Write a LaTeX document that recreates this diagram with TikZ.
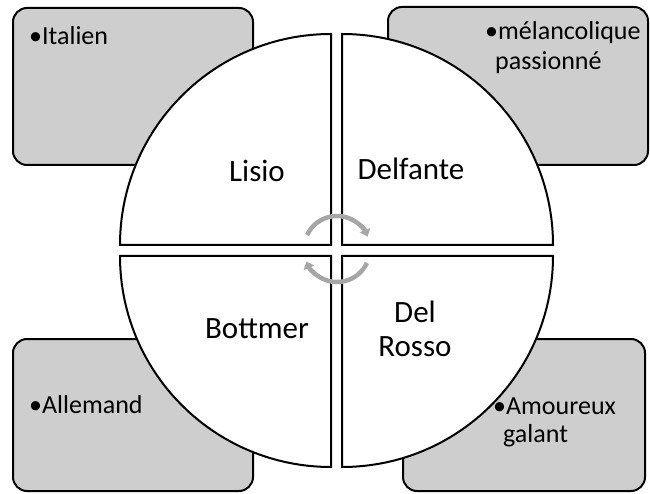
\documentclass[tikz,border=0pt]{standalone}
\usepackage{fontspec}
\setmainfont{Carlito}
\usetikzlibrary{arrows.meta}
\definecolor{boxgray}{RGB}{206,206,206}
\definecolor{arrgray}{RGB}{166,166,166}
\begin{document}
\begin{tikzpicture}[x=1pt,y=1pt,
  infobox/.style={draw=black, line width=2pt, fill=boxgray, rounded corners=14pt},
  quarter/.style={draw=black, line width=2pt, fill=white, line join=miter},
  qlabel/.style={font=\fontsize{31}{34}\selectfont, inner sep=0pt, anchor=base},
  blabel/.style={font=\fontsize{26}{30}\selectfont, inner sep=0pt, anchor=base west},
  cyc/.style={draw=arrgray, line width=4.5pt, -{Triangle[length=7pt,width=11pt]}}]
\useasboundingbox (0,0) rectangle (650,493);
% corner boxes
\draw[infobox] (13,328) rectangle (253,485);
\draw[infobox] (388,328) rectangle (648,486);
\draw[infobox] (13,2) rectangle (253,154);
\draw[infobox] (403,2) rectangle (645,154);
% quarters
\draw[quarter] (331,248) -- (120,248) arc[start angle=180, end angle=90, radius=211] -- cycle;
\draw[quarter] (342,248) -- (342,459) arc[start angle=90, end angle=0, radius=211] -- cycle;
\draw[quarter] (331,237) -- (120,237) arc[start angle=180, end angle=270, radius=211] -- cycle;
\draw[quarter] (342,237) -- (342,26) arc[start angle=270, end angle=360, radius=211] -- cycle;
% cycle arrows
\coordinate (cc) at (337,244);
\draw[cyc] ([shift={(155:33)}]cc) arc[start angle=155, end angle=22, radius=33];
\draw[cyc] ([shift={(-25:33)}]cc) arc[start angle=-25, end angle=-158, radius=33];
% quarter labels
\node[qlabel] (lisio) at (257,311) {Lisio};
\node[qlabel] (delfante) at (411,313) {Delfante};
\node[qlabel] (bottmer) at (257,155) {Bottmer};
\node[qlabel] (del) at (415,171) {Del};
\node[qlabel] (rosso) at (415,137) {Rosso};
% box texts
\node[blabel] (italien) at (29,448) {•Italien};
\node[blabel] (melanc) at (485,453) {•mélancolique};
\node[blabel] (passion) at (495,423) {passionné};
\node[blabel] (allemand) at (29,80) {•Allemand};
\node[blabel] (amoureux) at (493,79) {•Amoureux};
\node[blabel] (galant) at (503,51) {galant};
\end{tikzpicture}
\end{document}
